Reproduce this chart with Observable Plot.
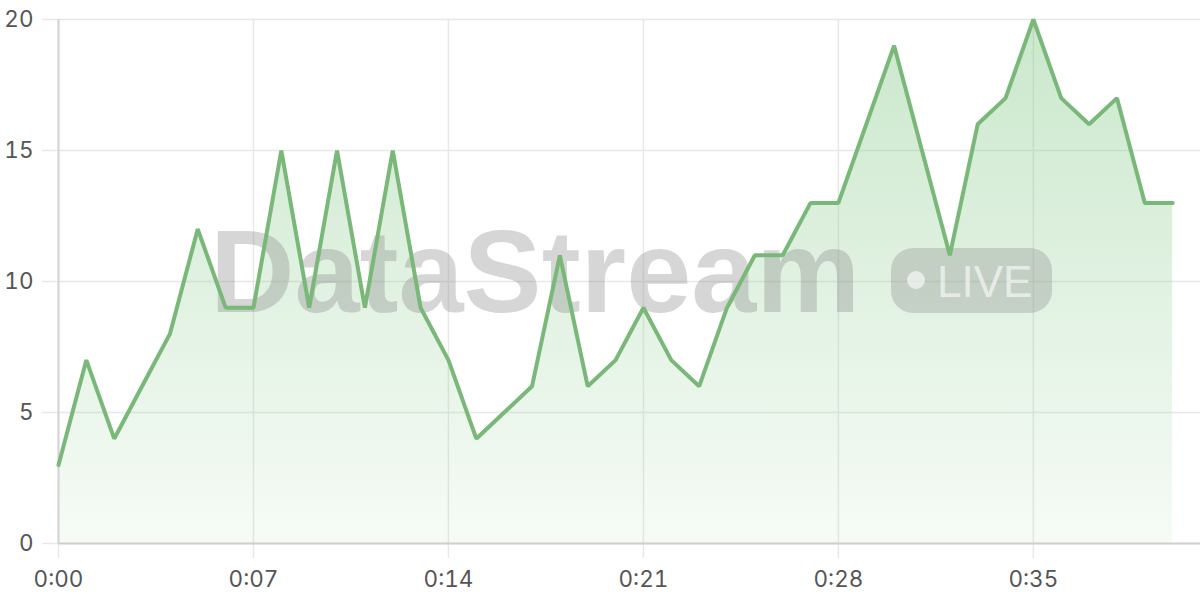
<!DOCTYPE html>
<html>
<head>
<meta charset="utf-8">
<script src="https://cdn.jsdelivr.net/npm/d3@7"></script>
<script src="https://cdn.jsdelivr.net/npm/@observablehq/plot@0.6"></script>
<style>
  html, body { margin: 0; padding: 0; background: #fff; }
</style>
</head>
<body>
<div id="chart"></div>
<script>
const seconds = [0,1,2,3,4,5,6,7,8,9,10,11,12,13,14,15,16,17,18,19,20,21,22,23,24,25,26,27,28,29,30,31,32,33,34,35,36,37,38,39,40];
const values  = [3,7,4,6,8,12,9,9,15,9,15,9,15,9,7,4,5,6,11,6,7,9,7,6,9,11,11,13,13,16,19,15,11,16,17,20,17,16,17,13,13];
const xTicks = [0,7,14,21,28,35];
const yTicks = [0,5,10,15,20];
const watermarkTitle = "DataStream";
const watermarkBadge = "LIVE";

const data = seconds.map((t, i) => ({t, v: values[i]}));
const fmt = d => `0:${String(d).padStart(2, "0")}`;

const defsMark = () => {
  const svg = d3.create("svg:g");
  const grad = svg.append("defs").append("linearGradient")
    .attr("id", "areaGrad").attr("x1", 0).attr("y1", 0).attr("x2", 0).attr("y2", 1);
  grad.append("stop").attr("offset", "0%").attr("stop-color", "rgb(129,199,132)").attr("stop-opacity", 0.42);
  grad.append("stop").attr("offset", "100%").attr("stop-color", "rgb(129,199,132)").attr("stop-opacity", 0.07);
  return svg.node();
};

const watermark = (index, scales, vals, dims) => {
  const cx = (dims.marginLeft + dims.width - dims.marginRight) / 2;
  const cy = (dims.marginTop + dims.height - dims.marginBottom) / 2;
  const g = d3.create("svg:g").attr("transform", `translate(${cx},${cy})`)
    .attr("text-anchor", "start");
  g.append("text")
    .attr("x", -419).attr("y", 31)
    .attr("text-anchor", "start")
    .attr("font-family", "'Liberation Sans', Arial, sans-serif")
    .attr("font-weight", "bold").attr("font-size", 117)
    .attr("fill", "#888").attr("fill-opacity", 0.34)
    .text(watermarkTitle);
  g.append("rect")
    .attr("x", 262).attr("y", -33).attr("width", 161).attr("height", 65)
    .attr("rx", 22).attr("fill", "#888").attr("fill-opacity", 0.32);
  g.append("circle")
    .attr("cx", 287).attr("cy", -1).attr("r", 9)
    .attr("fill", "#fff").attr("fill-opacity", 0.6);
  g.append("text")
    .attr("x", 308).attr("y", 16)
    .attr("text-anchor", "start")
    .attr("font-family", "'Liberation Sans', Arial, sans-serif")
    .attr("font-weight", "normal").attr("font-size", 44)
    .attr("fill", "#fff").attr("fill-opacity", 0.6)
    .text(watermarkBadge);
  return g.node();
};

const chart = Plot.plot({
  width: 1200,
  height: 600,
  marginLeft: 58,
  marginRight: 0,
  marginTop: 19,
  marginBottom: 57,
  style: {fontFamily: "Inter, 'Noto Sans', sans-serif", fontSize: "22.5px", background: "#fff", color: "#555"},
  x: {domain: [0, 41]},
  y: {domain: [0, 20]},
  marks: [
    defsMark,
    Plot.gridY(yTicks, {stroke: "#e8e8e8", strokeOpacity: 1, strokeWidth: 1.5}),
    Plot.gridX(xTicks, {stroke: "#e8e8e8", strokeOpacity: 1, strokeWidth: 1.5}),
    Plot.axisY(yTicks, {tickSize: 16, stroke: "#e8e8e8", strokeWidth: 1.5, tickPadding: 9, fill: "#555", label: null}),
    Plot.axisX(xTicks, {tickSize: 15, stroke: "#e8e8e8", strokeWidth: 1.5, tickPadding: 13, fill: "#555", tickFormat: fmt, label: null}),
    Plot.areaY(data, {x: "t", y: "v", fill: "url(#areaGrad)"}),
    Plot.ruleY([0], {stroke: "#cfcfcf", strokeWidth: 2}),
    Plot.ruleX([0], {stroke: "#d4d4d4", strokeWidth: 2}),
    watermark,
    Plot.line(data, {x: "t", y: "v", stroke: "#79b879", strokeWidth: 4, strokeLinejoin: "miter"})
  ]
});
document.getElementById("chart").appendChild(chart);
</script>
</body>
</html>
